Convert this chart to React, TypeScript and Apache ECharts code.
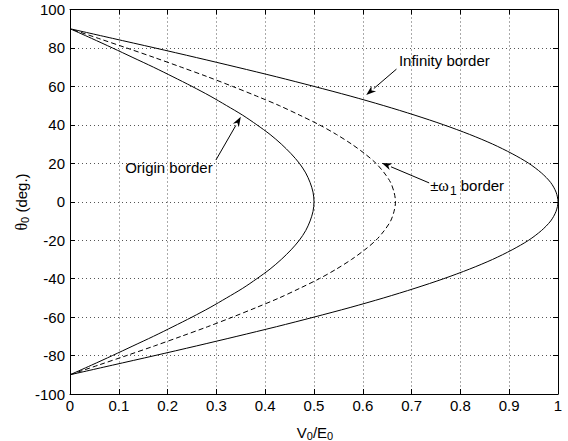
import { useEffect, useRef } from "react";
import * as echarts from "echarts";

// Initial angle theta_0 in degrees (vertical axis)
const thetaDeg = [
  -90, -85, -80, -75, -70, -65, -60, -55, -50, -45, -40, -35, -30, -25, -20, -15, -10, -5,
  0, 5, 10, 15, 20, 25, 30, 35, 40, 45, 50, 55, 60, 65, 70, 75, 80, 85, 90,
];

// V0/E0 on the infinity border (outer solid curve)
const infinityBorder = [
  0, 0.087, 0.174, 0.259, 0.342, 0.423, 0.5, 0.574, 0.643, 0.707, 0.766, 0.819, 0.866, 0.906, 0.94, 0.966, 0.985, 0.996,
  1.0, 0.996, 0.985, 0.966, 0.94, 0.906, 0.866, 0.819, 0.766, 0.707, 0.643, 0.574, 0.5, 0.423, 0.342, 0.259, 0.174, 0.087, 0,
];

// V0/E0 on the ±ω1 border (dashed curve)
const omegaBorder = [
  0, 0.058, 0.116, 0.173, 0.228, 0.282, 0.333, 0.382, 0.429, 0.471, 0.511, 0.546, 0.577, 0.604, 0.627, 0.644, 0.657, 0.664,
  0.667, 0.664, 0.657, 0.644, 0.627, 0.604, 0.577, 0.546, 0.511, 0.471, 0.429, 0.382, 0.333, 0.282, 0.228, 0.173, 0.116, 0.058, 0,
];

// V0/E0 on the origin border (inner solid curve)
const originBorder = [
  0, 0.044, 0.087, 0.129, 0.171, 0.211, 0.25, 0.287, 0.321, 0.354, 0.383, 0.41, 0.433, 0.453, 0.47, 0.483, 0.492, 0.498,
  0.5, 0.498, 0.492, 0.483, 0.47, 0.453, 0.433, 0.41, 0.383, 0.354, 0.321, 0.287, 0.25, 0.211, 0.171, 0.129, 0.087, 0.044, 0,
];

// Annotation labels with arrows, in data coordinates [V0/E0, theta_0]
const notes = [
  { text: "Infinity border", at: [0.674, 73.3], from: [0.669, 69.0], tip: [0.607, 55.5] },
  { text: "Origin border", at: [0.113, 17.6], from: [0.299, 21.7], tip: [0.35, 44.2] },
  { text: "{pm|±}{w|ω}{sub|1}{n| border}", at: [0.738, 8.7], from: [0.736, 9.8], tip: [0.639, 20.2] },
];

const FONT = "'Liberation Sans', Arial, Helvetica, sans-serif";
const SERIF = "'Liberation Serif', 'DejaVu Serif', serif";
const FS = 15;

const pair = (xs: number[]) => thetaDeg.map((t, i) => [xs[i], t]);

export default function App() {
  const ref = useRef<HTMLDivElement>(null);

  useEffect(() => {
    if (!ref.current) return;
    const chart = echarts.init(ref.current, null, { renderer: "svg" });

    const axisCommon = {
      axisLine: { show: true, onZero: false, lineStyle: { color: "#000", width: 1 } },
      axisTick: { show: true, inside: true, length: 5, lineStyle: { color: "#000" } },
    };
    const grid = { type: [1, 3] as number[], color: "#555", width: 1 };

    chart.setOption({
      animation: false,
      backgroundColor: "#fff",
      grid: { left: 70, right: 10, top: 9.5, bottom: 47, containLabel: false },
      xAxis: [
        {
          type: "value",
          min: 0,
          max: 1,
          interval: 0.1,
          ...axisCommon,
          axisLabel: { color: "#000", fontFamily: FONT, fontSize: FS, margin: 4 },
          splitLine: { show: true, lineStyle: grid },
        },
        {
          type: "value",
          position: "top",
          min: 0,
          max: 1,
          interval: 0.1,
          ...axisCommon,
          axisLabel: { show: false },
          splitLine: { show: false },
        },
      ],
      yAxis: [
        {
          type: "value",
          min: -100,
          max: 100,
          interval: 20,
          ...axisCommon,
          axisLabel: { color: "#000", fontFamily: FONT, fontSize: FS, margin: 5 },
          splitLine: { show: true, lineStyle: grid },
        },
        {
          type: "value",
          position: "right",
          min: -100,
          max: 100,
          interval: 20,
          ...axisCommon,
          axisLabel: { show: false },
          splitLine: { show: false },
        },
      ],
      series: [
        {
          name: "Infinity border",
          type: "line",
          data: pair(infinityBorder),
          showSymbol: false,
          smooth: 0.3,
          lineStyle: { color: "#000", width: 1 },
        },
        {
          name: "±ω1 border",
          type: "line",
          data: pair(omegaBorder),
          showSymbol: false,
          smooth: 0.3,
          lineStyle: { color: "#000", width: 1, type: [5, 3] },
        },
        {
          name: "Origin border",
          type: "line",
          data: pair(originBorder),
          showSymbol: false,
          smooth: 0.3,
          lineStyle: { color: "#000", width: 1 },
        },
      ],
    });

    const px = (p: number[]) => chart.convertToPixel({ gridIndex: 0 }, p) as number[];
    const graphics: any[] = [];
    notes.forEach((n) => {
      const a = px(n.at);
      const s = px(n.from);
      const t = px(n.tip);
      const dx = t[0] - s[0];
      const dy = t[1] - s[1];
      const len = Math.hypot(dx, dy);
      const ux = dx / len;
      const uy = dy / len;
      const head = 10;
      const half = 3.5;
      const bx = t[0] - ux * head;
      const by = t[1] - uy * head;
      graphics.push({
        type: "line",
        shape: { x1: s[0], y1: s[1], x2: bx, y2: by },
        style: { stroke: "#000", lineWidth: 1 },
      });
      graphics.push({
        type: "polygon",
        shape: {
          points: [
            [t[0], t[1]],
            [bx - uy * half, by + ux * half],
            [t[0] - ux * head * 0.7, t[1] - uy * head * 0.7],
            [bx + uy * half, by - ux * half],
          ],
        },
        style: { fill: "#000" },
      });
      graphics.push({
        type: "text",
        x: a[0],
        y: a[1],
        style: {
          text: n.text,
          fontFamily: FONT,
          fontSize: FS,
          fill: "#000",
          align: "left",
          verticalAlign: "middle",
          rich: {
            pm: { fontFamily: FONT, fontSize: FS, fill: "#000" },
            w: { fontFamily: SERIF, fontSize: 16, fill: "#000" },
            sub: { fontFamily: FONT, fontSize: 12, fill: "#000", padding: [11, 0, 0, 1] },
            n: { fontFamily: FONT, fontSize: FS, fill: "#000" },
          },
        },
      });
    });

    // Axis titles with subscripts
    graphics.push({
      type: "text",
      x: 315,
      y: 432,
      style: {
        text: "{a|V}{s|0}{a|/E}{s|0}",
        align: "center",
        verticalAlign: "middle",
        rich: {
          a: { fontFamily: FONT, fontSize: FS, fill: "#000" },
          s: { fontFamily: FONT, fontSize: 11, fill: "#000", padding: [8, 0, 0, 0] },
        },
      },
    });
    graphics.push({
      type: "text",
      x: 21,
      y: 202,
      rotation: Math.PI / 2,
      style: {
        text: "{w|θ}{s|0}{a| (deg.)}",
        align: "center",
        verticalAlign: "middle",
        rich: {
          w: { fontFamily: SERIF, fontSize: 16, fill: "#000" },
          a: { fontFamily: FONT, fontSize: FS, fill: "#000" },
          s: { fontFamily: FONT, fontSize: 11, fill: "#000", padding: [8, 0, 0, 0] },
        },
      },
    });

    chart.setOption({ graphic: graphics });

    return () => chart.dispose();
  }, []);

  return (
    <div
      ref={ref}
      style={{ position: "fixed", left: 0, top: 0, width: 568, height: 441, background: "#fff" }}
    />
  );
}
